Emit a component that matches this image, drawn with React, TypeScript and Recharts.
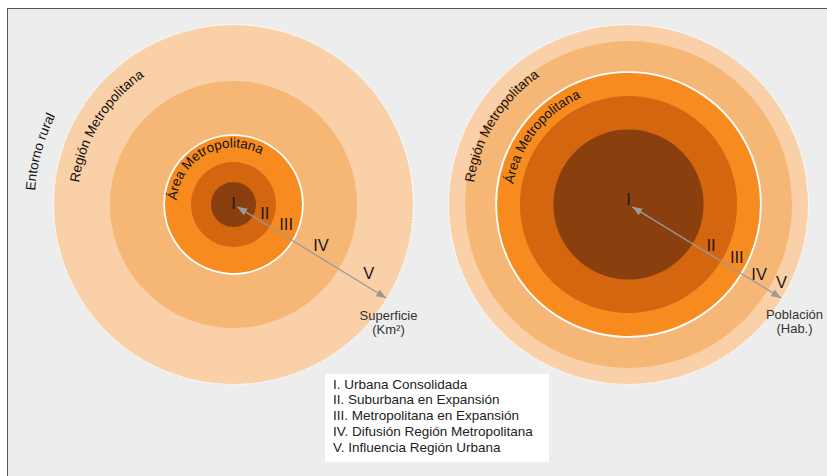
import { PieChart, Pie } from "recharts";

// zonas, de dentro hacia fuera
const zones = ["I", "II", "III", "IV", "V"];
const zoneNames = [
  "Urbana Consolidada",
  "Suburbana en Expansión",
  "Metropolitana en Expansión",
  "Difusión Región Metropolitana",
  "Influencia Región Urbana",
];
// radio acumulado de cada zona, en % del círculo exterior
const superficieShare = [12.5, 23.6, 38.6, 68.6, 100];
const poblacionShare = [41.7, 60.3, 73.6, 90.8, 100];
const zoneColors = ["#8A3F0E", "#D4660F", "#F88B1F", "#F6B776", "#F9D0A8"];
const measureLabels = [
  ["Superficie", "(Km²)"],
  ["Población", "(Hab.)"],
];

const W = 827;
const H = 476;
const R_OUT = 180;
const CY = 204.5;
const FONT = "'Liberation Sans', Arial, sans-serif";

const rad = (d: number) => (d * Math.PI) / 180;
const polar = (cx: number, r: number, a: number) => ({
  x: cx + r * Math.cos(rad(a)),
  y: CY + r * Math.sin(rad(a)),
});
const arcPath = (cx: number, r: number, a1: number, a2: number) => {
  const p1 = polar(cx, r, a1);
  const p2 = polar(cx, r, a2);
  return `M${p1.x},${p1.y} A${r},${r} 0 0 1 ${p2.x},${p2.y}`;
};

interface Panel {
  id: string;
  cx: number;
  share: number[];
  labelAngles: number[];
  centerDy: number;
  measure: string[];
  measureDx: number;
  measureDy: number;
  areaRadius: number;
  areaStart: number;
}

const panels: Panel[] = [
  {
    id: "sup",
    cx: 233.5,
    share: superficieShare,
    labelAngles: [0, 16, 20, 25, 27],
    centerDy: -1.5,
    measure: measureLabels[0],
    measureDx: 155,
    measureDy: 111,
    areaRadius: 57,
    areaStart: -176,
  },
  {
    id: "pob",
    cx: 628.5,
    share: poblacionShare,
    labelAngles: [0, 26, 26, 28, 27],
    centerDy: -6,
    measure: measureLabels[1],
    measureDx: 166,
    measureDy: 110,
    areaRadius: 117,
    areaStart: -170,
  },
];

const Annotations = () => (
  <svg width={W} height={H} style={{ position: "absolute", left: 0, top: 0, pointerEvents: "none" }}>
    <defs>
      <marker
        id="arrow"
        viewBox="0 0 10 8"
        refX={10}
        refY={4}
        markerWidth={10}
        markerHeight={8}
        markerUnits="userSpaceOnUse"
        orient="auto-start-reverse"
      >
        <path d="M0,0 L10,4 L0,8 Z" fill="#9A9A9A" />
      </marker>
      <path id="rural" d={arcPath(panels[0].cx, 199, -176, -140)} />
      {panels.map((p) => (
        <path key={p.id} id={`region-${p.id}`} d={arcPath(p.cx, 156, -172, -100)} />
      ))}
      {panels.map((p) => (
        <path key={p.id} id={`area-${p.id}`} d={arcPath(p.cx, p.areaRadius, p.areaStart, -20)} />
      ))}
    </defs>
    <text fontFamily={FONT} fontSize={13.5} fill="#111">
      <textPath href="#rural">Entorno rural</textPath>
    </text>
    {panels.map((p) => (
      <g key={`${p.id}-txt`} fontFamily={FONT}>
        <text fontSize={13.5} fill="#111">
          <textPath href={`#region-${p.id}`}>Región Metropolitana</textPath>
        </text>
        <text fontSize={13.5} fill="#111">
          <textPath href={`#area-${p.id}`}>Área Metropolitana</textPath>
        </text>
        <line
          x1={polar(p.cx, 4.5, 31.5).x}
          y1={polar(p.cx, 4.5, 31.5).y}
          x2={polar(p.cx, 179, 31.5).x}
          y2={polar(p.cx, 179, 31.5).y}
          stroke="#9A9A9A"
          strokeWidth={1.3}
          markerStart="url(#arrow)"
          markerEnd="url(#arrow)"
        />
        {zones.map((z, i) => {
          const inner = i === 0 ? 0 : (R_OUT * p.share[i - 1]) / 100;
          const outer = (R_OUT * p.share[i]) / 100;
          const pos =
            i === 0 ? { x: p.cx, y: CY + p.centerDy } : polar(p.cx, (inner + outer) / 2, p.labelAngles[i]);
          return (
            <text
              key={z}
              x={pos.x}
              y={pos.y}
              textAnchor="middle"
              dominantBaseline="central"
              fontSize={16.5}
              fill="#1a1a1a"
            >
              {z}
            </text>
          );
        })}
        {p.measure.map((m, j) => (
          <text
            key={m}
            x={p.cx + p.measureDx}
            y={CY + p.measureDy + j * 13.5}
            textAnchor="middle"
            dominantBaseline="central"
            fontSize={13}
            fill="#333"
          >
            {m}
          </text>
        ))}
      </g>
    ))}
    <rect x={325} y={374} width={224} height={88} fill="#fff" />
    {zones.map((z, i) => (
      <text
        key={`leg-${z}`}
        x={333}
        y={384 + i * 15.8}
        dominantBaseline="central"
        fontFamily={FONT}
        fontSize={13.5}
        fill="#222"
      >
        {`${z}. ${zoneNames[i]}`}
      </text>
    ))}
  </svg>
);

const App = () => {
  return (
    <div style={{ position: "absolute", left: 0, top: 0, width: W, height: H, background: "#fff" }}>
      <div
        style={{
          position: "absolute",
          left: 7,
          top: 8,
          right: 0,
          bottom: 0,
          background: "#ECEDEC",
          borderTop: "1.5px solid #555",
          borderLeft: "1.5px solid #555",
        }}
      />
      <div style={{ position: "absolute", left: 0, top: 0 }}>
        <PieChart width={W} height={H} margin={{ top: 0, right: 0, bottom: 0, left: 0 }}>
          {panels.flatMap((p) =>
            zones
              .map((z, i) => (
                <Pie
                  key={`${p.id}-${z}`}
                  data={[{ name: z, value: 1 }]}
                  dataKey="value"
                  cx={p.cx}
                  cy={CY}
                  innerRadius={0}
                  outerRadius={(R_OUT * p.share[i]) / 100}
                  fill={zoneColors[i]}
                  stroke="none"
                  isAnimationActive={false}
                />
              ))
              .reverse()
          )}
          {panels.map((p) => (
            <Pie
              key={`${p.id}-area`}
              data={[{ name: "Área", value: 1 }]}
              dataKey="value"
              cx={p.cx}
              cy={CY}
              innerRadius={(R_OUT * p.share[2]) / 100 - 0.2}
              outerRadius={(R_OUT * p.share[2]) / 100}
              fill="none"
              stroke="#fff"
              strokeWidth={1.6}
              isAnimationActive={false}
            />
          ))}
          {panels.map((p) => (
            <Pie
              key={`${p.id}-outer`}
              data={[{ name: "Región", value: 1 }]}
              dataKey="value"
              cx={p.cx}
              cy={CY}
              innerRadius={R_OUT - 0.2}
              outerRadius={R_OUT}
              fill="none"
              stroke="#fff"
              strokeWidth={1}
              strokeDasharray="1.5 1.5"
              isAnimationActive={false}
            />
          ))}
        </PieChart>
      </div>
      <Annotations />
    </div>
  );
};

export default App;
